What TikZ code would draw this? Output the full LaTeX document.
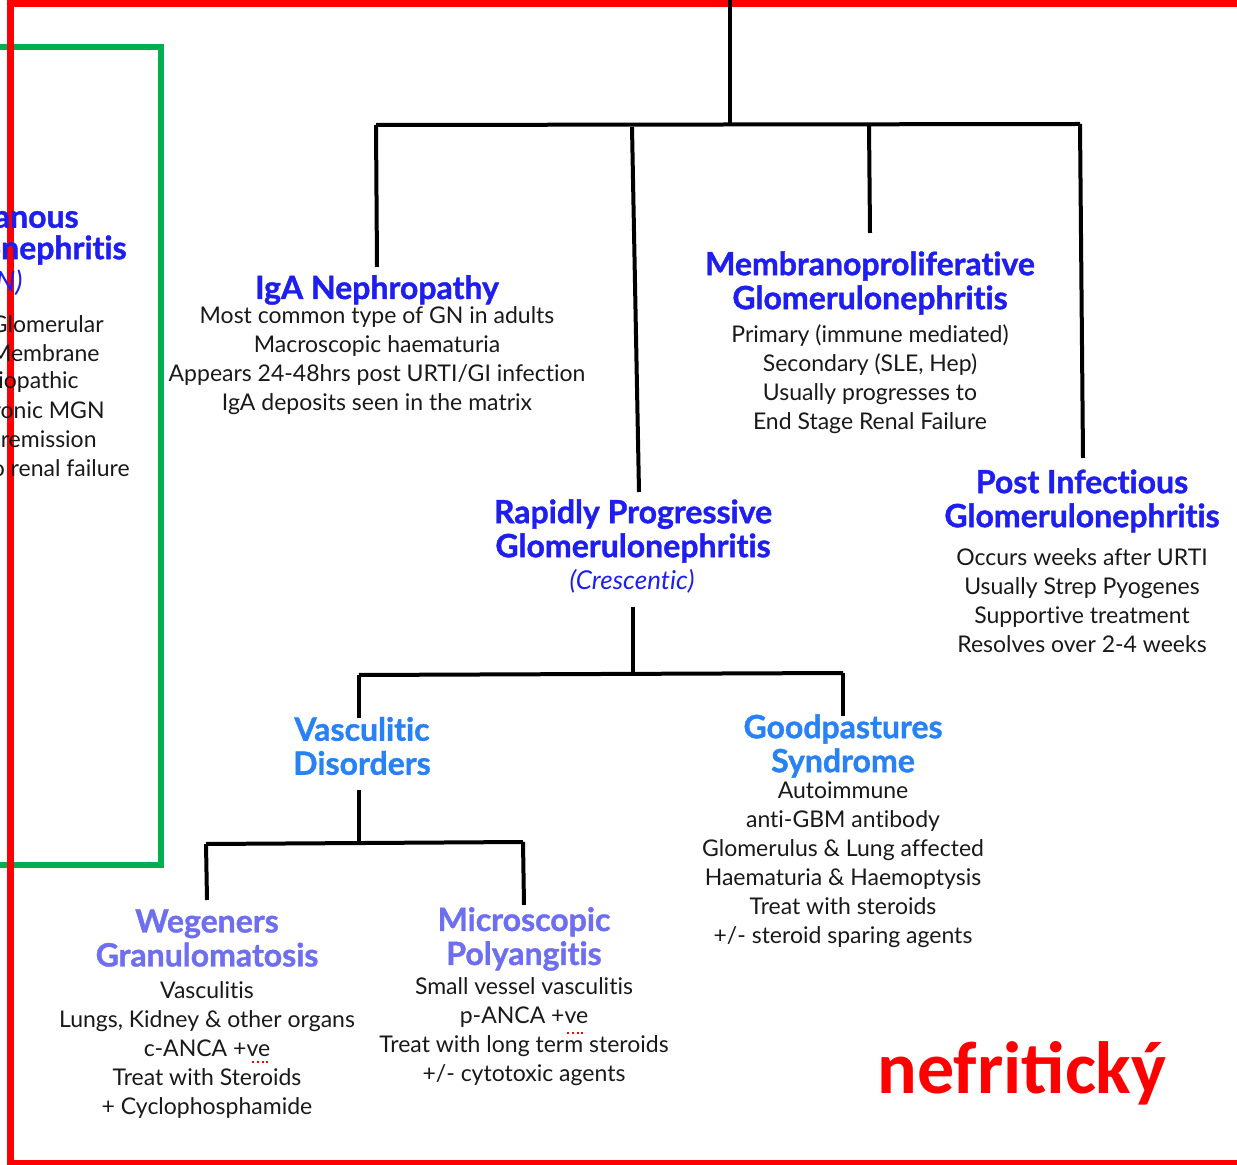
\documentclass[tikz,border=0pt]{standalone}
\usepackage{fontspec}
\setmainfont[RawFeature={-liga;-clig;-dlig;-calt}]{Lato}
\newfontfamily\headfont[RawFeature={-liga;-clig;-dlig;-calt},BoldFeatures={FakeBold=1.2}]{Lato}
\newfontfamily\calib{Carlito}
\definecolor{hblue}{RGB}{30,30,240}
\definecolor{lblue}{RGB}{40,130,245}
\definecolor{vblue}{RGB}{110,110,240}
\definecolor{fred}{RGB}{255,0,0}
\definecolor{fgreen}{RGB}{0,176,80}
\definecolor{txt}{RGB}{25,25,25}
\begin{document}
\begin{tikzpicture}[x=0.5pt,y=-0.5pt,
  tline/.style={line width=2pt,black},
  head/.style={font=\headfont\fontsize{16}{17}\selectfont\bfseries,text=hblue,align=center,inner sep=0pt},
  headl/.style={head,text=lblue},
  headv/.style={head,text=vblue},
  body/.style={font=\fontsize{11.5}{14.5}\selectfont,text=txt,align=center,inner sep=0pt,anchor=north},
  clipped/.style={font=\fontsize{11.5}{14.5}\selectfont,text=txt,inner sep=0pt,anchor=east},
  squig/.style={fred,line width=1pt,dash pattern=on 1.2pt off 1.2pt}]
\useasboundingbox (0,0) rectangle (1237,1165);
% frames
\draw[fgreen,line width=2.6pt] (-5,47) -- (161,47) -- (161,865) -- (-5,865);
\draw[fred,line width=3.5pt] (1240,3.5) -- (10,3.5) -- (10,1163) -- (1240,1163);
\draw[fred,line width=1.5pt] (10,1163) -- (1240,1163);
% left clipped MGN column
\begin{scope}
\clip (0,0) rectangle (1237,1165);
\node[head,anchor=east] (mgnA) at (79,216) {Membranous};
\node[head,anchor=east] (mgnB) at (127,250) {Glomerulonephritis};
\node[font=\fontsize{14}{17}\selectfont\itshape,text=hblue,inner sep=0pt,anchor=east] (mgnC) at (23,283) {(MGN)};
\node[clipped] (m1) at (104,324) {Glomerular};
\node[clipped] (m2) at (100,353) {Membrane};
\node[clipped] (m3) at (79,382) {Idiopathic};
\node[clipped] (m4) at (105,410) {Chronic MGN};
\node[clipped] (m5) at (97,439) {remission};
\node[clipped] (m6) at (130,468) {to renal failure};
\end{scope}
% nodes
\node[head] (iga) at (377,290) {IgA Nephropathy};
\node[body] (igab) at (377,306) {Most common type of GN in adults\\Macroscopic haematuria\\Appears 24-48hrs post URTI/GI infection\\IgA deposits seen in the matrix};
\node[head] (mpgn) at (870,283) {Membranoproliferative\\Glomerulonephritis};
\node[body] (mpgnb) at (870,324) {Primary (immune mediated)\\Secondary (SLE, Hep)\\Usually progresses to\\End Stage Renal Failure};
\node[head] (rpgn) at (633,531) {Rapidly Progressive\\Glomerulonephritis};
\node[font=\fontsize{13}{16}\selectfont\itshape,text=hblue,inner sep=0pt] (cres) at (632,581) {(Crescentic)};
\node[head] (pign) at (1082,501) {Post Infectious\\Glomerulonephritis};
\node[body] (pignb) at (1082,548) {Occurs weeks after URTI\\Usually Strep Pyogenes\\Supportive treatment\\Resolves over 2-4 weeks};
\node[headl] (vasc) at (362,746) {Vasculitic\\Disorders};
\node[headl] (good) at (843,746) {Goodpastures\\Syndrome};
\node[body] (goodb) at (843,781) {Autoimmune\\anti-GBM antibody\\Glomerulus \& Lung affected\\Haematuria \& Haemoptysis\\Treat with steroids\\+/- steroid sparing agents};
\node[headv] (weg) at (207,938) {Wegeners\\Granulomatosis};
\node[body] (wegb) at (207,981) {Vasculitis\\Lungs, Kidney \& other organs\\c-ANCA +ve\\Treat with Steroids\\+ Cyclophosphamide};
\node[headv] (micro) at (524,939) {Microscopic\\Polyangitis};
\node[body] (microb) at (524,977) {Small vessel vasculitis\\p-ANCA +ve\\Treat with long term steroids\\+/- cytotoxic agents};
\node[font=\calib\fontsize{37}{42}\selectfont\bfseries,text=fred,inner sep=0pt] (nef) at (1022,1073) {nefritický};
% spell-check squiggles
\draw[squig] (252,1062) -- (268,1062);
\draw[squig] (567,1033) -- (583,1033);
% tree coordinates
\coordinate (root) at (730,0);
\coordinate (h1) at (730,124);
\coordinate (hL) at (376,125);
\coordinate (hR) at (1080,124);
\coordinate (iga-t) at (377,267);
\coordinate (rp-s) at (632,127);
\coordinate (rp-t) at (639,492);
\coordinate (mp-s) at (869,124);
\coordinate (mp-t) at (870,233);
\coordinate (pi-t) at (1083,458);
\coordinate (rp-b) at (633,607);
\coordinate (h2) at (633,673);
\coordinate (h2L) at (359,675);
\coordinate (h2R) at (843,673);
\coordinate (va-t) at (359,718);
\coordinate (go-t) at (843,716);
\coordinate (va-b) at (359,790);
\coordinate (h3) at (359,841);
\coordinate (h3L) at (206,844);
\coordinate (h3R) at (523,842);
\coordinate (we-t) at (207,900);
\coordinate (mi-t) at (524,905);
% connectors
\draw[tline] (root) -- (h1);
\draw[tline] (hL) -- (hR);
\draw[tline] (hL) -- (iga-t);
\draw[tline] (rp-s) -- (rp-t);
\draw[tline] (mp-s) -- (mp-t);
\draw[tline] (hR) -- (pi-t);
\draw[tline] (rp-b) -- (h2);
\draw[tline] (h2L) -- (h2R);
\draw[tline] (h2L) -- (va-t);
\draw[tline] (h2R) -- (go-t);
\draw[tline] (va-b) -- (h3);
\draw[tline] (h3L) -- (h3R);
\draw[tline] (h3L) -- (we-t);
\draw[tline] (h3R) -- (mi-t);
\end{tikzpicture}
\end{document}
